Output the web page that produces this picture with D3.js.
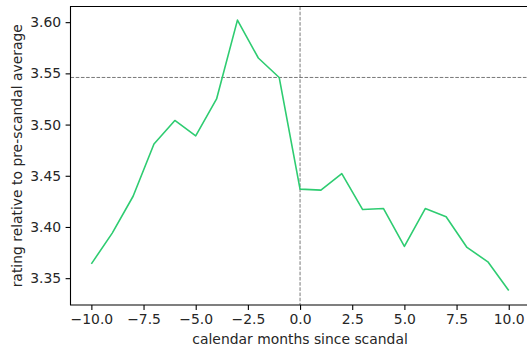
<!DOCTYPE html>
<html>
<head>
<meta charset="utf-8">
<script src="https://cdn.jsdelivr.net/npm/d3@7"></script>
<style>
  html, body { margin: 0; padding: 0; background: #fff; }
  svg { display: block; }
  text { font-family: "DejaVu Sans", sans-serif; fill: #262626; }
</style>
</head>
<body>
<svg id="chart" width="527" height="351"></svg>
<script>
// Monthly ratings around the scandal month (0)
const months = [-10, -9, -8, -7, -6, -5, -4, -3, -2, -1, 0, 1, 2, 3, 4, 5, 6, 7, 8, 9, 10];
const ratings = [3.364, 3.394, 3.430, 3.481, 3.504, 3.489, 3.525, 3.602, 3.565, 3.546,
                 3.437, 3.436, 3.452, 3.417, 3.418, 3.381, 3.418, 3.410, 3.380, 3.366, 3.338];
const xTicks = [-10, -7.5, -5, -2.5, 0, 2.5, 5, 7.5, 10];
const yTicks = [3.35, 3.40, 3.45, 3.50, 3.55, 3.60];
const scandalMonth = 0;
const preScandalLevel = 3.546;

const svg = d3.select("#chart");
const plot = { left: 70.5, top: 6.5, bottom: 305, right: 529.6 };

const x = d3.scaleLinear().domain([-11, 11]).range([plot.left, plot.right]);
const y = d3.scaleLinear().domain([3.3238, 3.6153]).range([plot.bottom, plot.top]);

const minus = s => s.replace("-", "\u2212");

// reference lines
svg.append("line")
  .attr("x1", x(scandalMonth)).attr("x2", x(scandalMonth))
  .attr("y1", plot.top).attr("y2", plot.bottom)
  .attr("stroke", "#555").attr("stroke-width", 0.8)
  .attr("stroke-dasharray", "3.6,1.6");
svg.append("line")
  .attr("x1", plot.left).attr("x2", plot.right)
  .attr("y1", y(preScandalLevel)).attr("y2", y(preScandalLevel))
  .attr("stroke", "#555").attr("stroke-width", 0.8)
  .attr("stroke-dasharray", "3.6,1.6");

// rating line
const line = d3.line().x((d, i) => x(months[i])).y(d => y(d));
svg.append("path")
  .datum(ratings)
  .attr("d", line)
  .attr("fill", "none")
  .attr("stroke", "#2ecc71")
  .attr("stroke-width", 1.6)
  .attr("stroke-linejoin", "round");

// axes
const xAxis = d3.axisBottom(x).tickValues(xTicks)
  .tickFormat(d => minus(d3.format(".1f")(d)))
  .tickSize(4.9).tickPadding(4.5);
const gx = svg.append("g").attr("transform", `translate(0,${plot.bottom})`).call(xAxis);

const yAxis = d3.axisLeft(y).tickValues(yTicks)
  .tickFormat(d3.format(".2f"))
  .tickSize(4.9).tickPadding(4.5);
const gy = svg.append("g").attr("transform", `translate(${plot.left},0)`).call(yAxis);

[gx, gy].forEach(g => {
  g.select(".domain").remove();
  g.selectAll(".tick line").attr("stroke", "#000").attr("stroke-width", 1.1);
  g.selectAll(".tick text").attr("font-size", "13.9px").attr("fill", "#262626")
    .style("font-family", "'DejaVu Sans', sans-serif");
});

// spines: left, top, bottom
svg.append("path")
  .attr("d", `M${plot.right},${plot.top}H${plot.left}V${plot.bottom}H${plot.right}`)
  .attr("fill", "none").attr("stroke", "#000").attr("stroke-width", 1.1);

// axis titles
svg.append("text")
  .attr("x", (plot.left + plot.right) / 2).attr("y", 344)
  .attr("text-anchor", "middle").attr("font-size", "13.9px")
  .text("calendar months since scandal");

svg.append("text")
  .attr("transform", `translate(22,${(plot.top + plot.bottom) / 2}) rotate(-90)`)
  .attr("text-anchor", "middle").attr("font-size", "13.9px")
  .text("rating relative to pre-scandal average");
</script>
</body>
</html>
